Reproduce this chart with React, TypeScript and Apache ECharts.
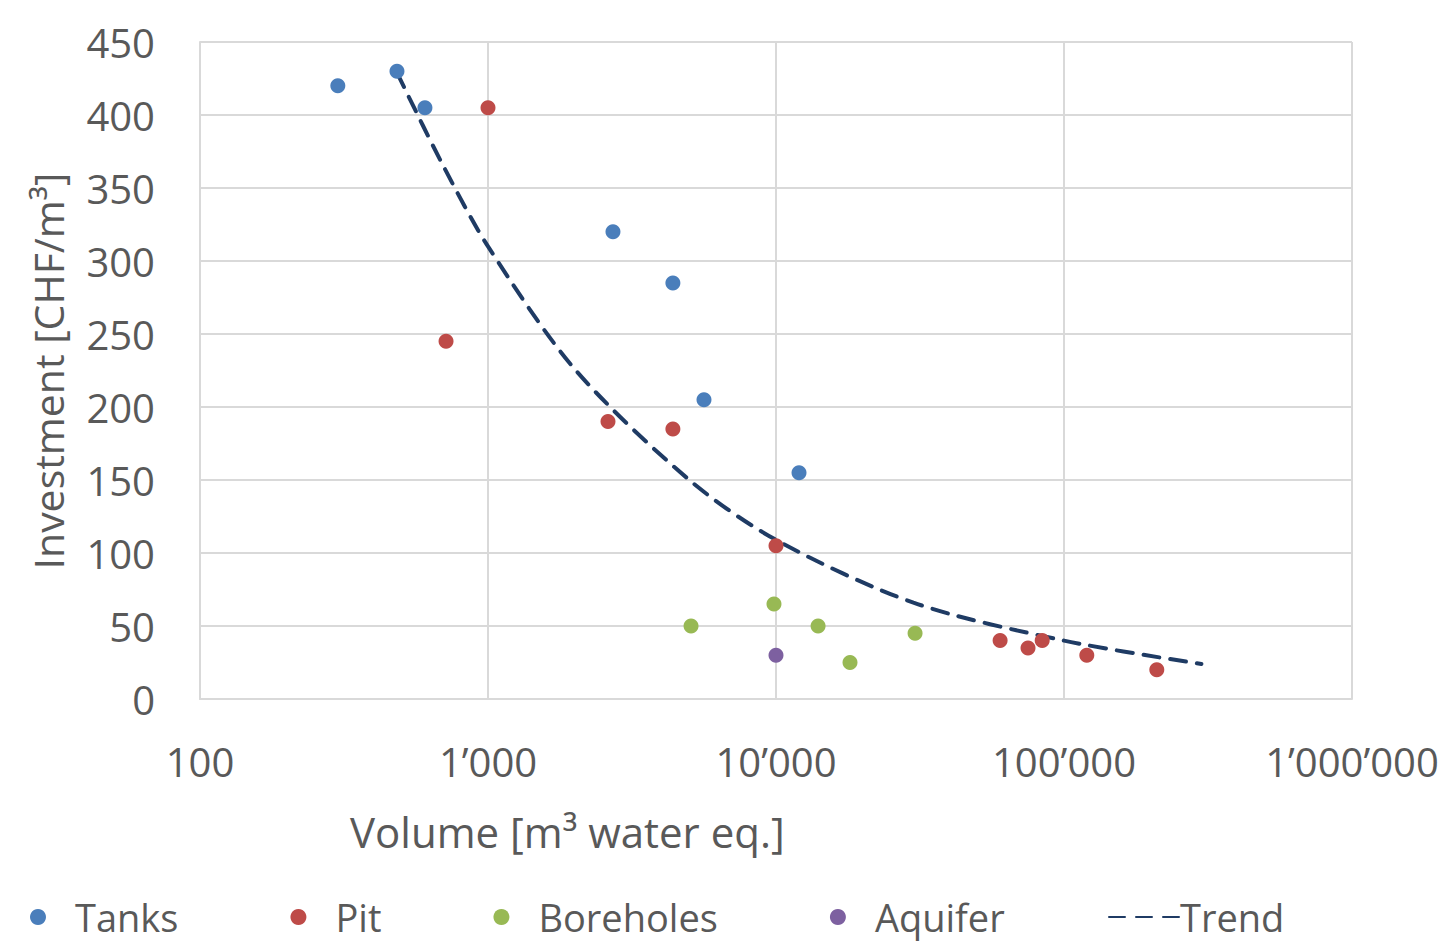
import React, { useEffect, useRef } from "react";
import * as echarts from "echarts";

const tanks: [number, number][] = [
  [301, 420], [483, 430], [604, 405], [2716, 320], [4385, 285], [5623, 205], [12020, 155],
];
const pit: [number, number][] = [
  [1000, 405], [715, 245], [2610, 190], [4385, 185], [10000, 105],
  [60000, 40], [75000, 35], [84000, 40], [120000, 30], [210000, 20],
];
const boreholes: [number, number][] = [
  [5070, 50], [9840, 65], [14000, 50], [18070, 25], [30400, 45],
];
const aquifer: [number, number][] = [[10000, 30]];
const trend: [number, number][] = [
  [483, 429], [700, 365], [1000, 310], [2000, 226], [5000, 150], [10000, 109],
  [30000, 66], [100000, 40], [300000, 24],
];

const FONT = "'Open Sans', 'Noto Sans', sans-serif";
const TEXT = "#595959";

const fmt = (v: number) =>
  Math.round(v).toString().replace(/\B(?=(\d{3})+(?!\d))/g, "\u2019");

export default function App() {
  const ref = useRef<HTMLDivElement>(null);
  useEffect(() => {
    if (!ref.current) return;
    const chart = echarts.init(ref.current, undefined, { renderer: "svg" });
    const dot = (name: string, data: [number, number][], color: string) => ({
      name,
      type: "scatter",
      data,
      symbol: "circle",
      symbolSize: 15,
      itemStyle: { color, opacity: 1 },
      z: 3,
    });
    chart.setOption({
      animation: false,
      backgroundColor: "#ffffff",
      textStyle: { fontFamily: FONT },
      grid: { left: 200, right: 99, top: 42, bottom: 245, containLabel: false },
      xAxis: {
        type: "log",
        logBase: 10,
        min: 100,
        max: 1000000,
        axisLine: { show: true, lineStyle: { color: "#D9D9D9", width: 2 } },
        axisTick: { show: false },
        splitLine: { show: true, lineStyle: { color: "#D9D9D9", width: 2 } },
        minorSplitLine: { show: false },
        axisLabel: {
          color: TEXT,
          fontSize: 40,
          fontFamily: FONT,
          margin: 42,
          formatter: fmt,
        },
      },
      yAxis: {
        type: "value",
        min: 0,
        max: 450,
        interval: 50,
        axisLine: { show: true, lineStyle: { color: "#D9D9D9", width: 2 } },
        axisTick: { show: false },
        splitLine: { show: true, lineStyle: { color: "#D9D9D9", width: 2 } },
        axisLabel: { color: TEXT, fontSize: 40, fontFamily: FONT, margin: 45 },
      },
      legend: [
        {
          data: ["Tanks", "Pit", "Boreholes", "Aquifer"],
          left: 25,
          top: 893,
          itemWidth: 16,
          itemHeight: 16,
          itemGap: 112,
          icon: "circle",
          textStyle: {
            color: TEXT,
            fontSize: 38,
            lineHeight: 38,
            fontFamily: FONT,
            padding: [0, 0, 0, 24],
          },
        },
        {
          data: [{ name: "Trend", itemStyle: { opacity: 0 } }],
          left: 1103,
          top: 893,
          itemWidth: 72,
          itemHeight: 14,
          textStyle: {
            color: TEXT,
            fontSize: 38,
            lineHeight: 38,
            fontFamily: FONT,
            padding: [0, 0, 0, -6],
          },
        },
      ],
      graphic: [
        {
          type: "text",
          left: 350,
          top: 810,
          style: { text: "Volume [m\u00b3 water eq.]", fill: TEXT, font: `42px ${FONT}` },
        },
        {
          type: "text",
          x: 48,
          y: 371,
          rotation: Math.PI / 2,
          style: {
            text: "Investment [CHF/m\u00b3]",
            fill: TEXT,
            font: `41px ${FONT}`,
            align: "center",
            verticalAlign: "middle",
          },
        },
      ],
      series: [
        {
          name: "Trend",
          type: "line",
          data: trend,
          smooth: 0.3,
          symbol: "none",
          lineStyle: { color: "#1F3B64", width: 4, type: [16, 11], cap: "round" },
          itemStyle: { color: "#1F3B64" },
          z: 2,
        },
        dot("Tanks", tanks, "#4A7EBB"),
        dot("Pit", pit, "#BE4B48"),
        dot("Boreholes", boreholes, "#98B954"),
        dot("Aquifer", aquifer, "#7D60A0"),
      ],
    });
    return () => chart.dispose();
  }, []);
  return <div ref={ref} style={{ width: 1451, height: 944, position: "absolute", left: 0, top: 0 }} />;
}
